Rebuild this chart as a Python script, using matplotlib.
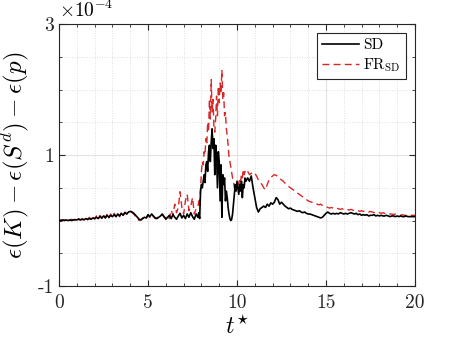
import numpy as np
import matplotlib
matplotlib.use("Agg")
import matplotlib.pyplot as plt
from matplotlib.ticker import MultipleLocator

plt.rcParams['font.family'] = 'cmr10'
plt.rcParams['mathtext.fontset'] = 'cm'
plt.rcParams['axes.unicode_minus'] = False

# time grid: coarse at start, fine around the burst, coarse after
t = np.concatenate([np.arange(0, 7.75, 0.1),
                    np.arange(7.8, 10.46, 0.05),
                    np.arange(10.5, 20.01, 0.1)])

# values in units of 1e-4
sd_a = [0.00, 0.00, 0.01, 0.00, 0.01, 0.00, 0.01, 0.00, 0.01, 0.01,
        0.01, 0.02, 0.01, 0.02, 0.01, 0.03, 0.02, 0.03, 0.02, 0.04,
        0.03, 0.05, 0.03, 0.06, 0.04, 0.07, 0.04, 0.08, 0.05, 0.08,
        0.06, 0.09, 0.06, 0.10, 0.07, 0.11, 0.08, 0.12, 0.10, 0.13,
        0.14, 0.13, 0.11, 0.08, 0.05, 0.02, 0.01, 0.03, 0.05, 0.04,
        0.09, 0.06, 0.10, 0.07, 0.04, 0.03, 0.05, 0.07, 0.10, 0.06,
        0.02, 0.05, 0.08, 0.03, 0.09, 0.05, 0.02, 0.07, 0.11, 0.04,
        0.08, 0.03, 0.10, 0.05, 0.12, 0.06, 0.02, 0.10]
fr_a = [0.00, 0.01, 0.00, 0.01, 0.00, 0.02, 0.00, 0.02, 0.01, 0.02,
        0.00, 0.03, 0.01, 0.03, 0.01, 0.04, 0.01, 0.05, 0.02, 0.06,
        0.02, 0.07, 0.03, 0.08, 0.03, 0.09, 0.04, 0.10, 0.04, 0.10,
        0.05, 0.11, 0.06, 0.12, 0.06, 0.12, 0.08, 0.13, 0.10, 0.14,
        0.15, 0.12, 0.10, 0.06, 0.03, 0.00, 0.01, 0.04, 0.06, 0.03,
        0.08, 0.05, 0.09, 0.06, 0.03, 0.04, 0.06, 0.08, 0.09, 0.05,
        0.04, 0.08, 0.03, 0.16, 0.08, 0.25, 0.12, 0.20, 0.44, 0.20,
        0.10, 0.30, 0.40, 0.15, 0.22, 0.35, 0.10, 0.18]

sd_b = [0.05, 0.12, 0.03, 0.45, 0.55, 0.50, 0.60, 0.70, 0.58, 0.85,
        0.90, 0.75, 1.05, 1.15, 0.90, 1.20, 1.40, 1.10, 1.25, 0.70,
        1.15, 1.00, 0.50, 1.05, 0.90, 0.30, 0.85, 0.05, 0.70, 0.55,
        0.65, 0.30, 0.45, 0.35, 0.20, 0.10, 0.03, 0.00, 0.02, 0.10,
        0.25, 0.40, 0.55, 0.45, 0.60, 0.50, 0.40, 0.55, 0.45, 0.60,
        0.35, 0.55, 0.50, 0.65]
fr_b = [0.20, 0.30, 0.22, 0.50, 0.75, 0.90, 0.85, 1.05, 1.00, 1.25,
        1.15, 1.50, 1.35, 1.85, 1.55, 2.15, 1.65, 1.85, 1.45, 1.35,
        1.55, 1.90, 1.60, 2.05, 1.80, 2.10, 1.95, 2.30, 1.85, 1.95,
        1.60, 1.65, 1.40, 1.30, 1.15, 0.97, 0.90, 0.82, 0.75, 0.65,
        0.60, 0.50, 0.48, 0.55, 0.50, 0.60, 0.55, 0.65, 0.60, 0.70,
        0.65, 0.78, 0.70, 0.75]

sd_c = [0.60, 0.65, 0.60, 0.68, 0.50, 0.35, 0.20, 0.13, 0.18, 0.20,
        0.22, 0.20, 0.25, 0.22, 0.27, 0.25, 0.28, 0.35, 0.32, 0.25,
        0.28, 0.25, 0.22, 0.20, 0.18, 0.19, 0.17, 0.16, 0.15, 0.14,
        0.15, 0.13, 0.12, 0.13, 0.11, 0.10, 0.10, 0.09, 0.08, 0.07,
        0.06, 0.05, 0.04, 0.05, 0.08, 0.11, 0.13, 0.11, 0.10, 0.11,
        0.10, 0.11, 0.10, 0.12, 0.11, 0.10, 0.11, 0.10, 0.11, 0.12,
        0.11, 0.10, 0.11, 0.09, 0.10, 0.08, 0.09, 0.08, 0.09, 0.07,
        0.08, 0.08, 0.09, 0.07, 0.08, 0.07, 0.08, 0.07, 0.07, 0.08,
        0.07, 0.06, 0.07, 0.07, 0.06, 0.07, 0.06, 0.07, 0.06, 0.06,
        0.07, 0.06, 0.06, 0.06, 0.06, 0.06]
fr_c = [0.72, 0.75, 0.70, 0.72, 0.74, 0.72, 0.68, 0.62, 0.58, 0.55,
        0.50, 0.47, 0.55, 0.62, 0.66, 0.68, 0.70, 0.69, 0.67, 0.64,
        0.62, 0.60, 0.57, 0.55, 0.52, 0.50, 0.48, 0.46, 0.44, 0.42,
        0.40, 0.38, 0.36, 0.34, 0.32, 0.30, 0.29, 0.28, 0.27, 0.26,
        0.25, 0.24, 0.25, 0.23, 0.22, 0.21, 0.20, 0.19, 0.20, 0.19,
        0.18, 0.19, 0.18, 0.17, 0.18, 0.17, 0.18, 0.17, 0.16, 0.17,
        0.16, 0.15, 0.16, 0.15, 0.14, 0.15, 0.14, 0.15, 0.14, 0.13,
        0.14, 0.13, 0.12, 0.13, 0.12, 0.12, 0.11, 0.12, 0.11, 0.10,
        0.11, 0.10, 0.10, 0.09, 0.10, 0.09, 0.09, 0.08, 0.09, 0.08,
        0.08, 0.08, 0.08, 0.08, 0.08, 0.08]

sd = np.array(sd_a + sd_b + sd_c) * 1e-4
fr = np.array(fr_a + fr_b + fr_c) * 1e-4

xticks = [0, 5, 10, 15, 20]
yticks = [-1e-4, 1e-4, 3e-4]
yticklabels = ['-1', '1', '3']

fig = plt.figure(figsize=(4.58, 3.43), dpi=100)
ax = fig.add_axes([0.129, 0.166, 0.777, 0.764])

ax.plot(t, sd, color='k', lw=1.2, label='SD', zorder=3)
ax.plot(t, fr, color='#d62728', lw=1.0, ls=(0, (5, 3)), label=r'FR$_{\rm SD}$', zorder=2)

ax.set_xlim(0, 20)
ax.set_ylim(-1e-4, 3e-4)
ax.set_xticks(xticks)
ax.set_xticklabels([str(x) for x in xticks])
ax.set_yticks(yticks)
ax.set_yticklabels(yticklabels)
ax.xaxis.set_minor_locator(MultipleLocator(1))
ax.yaxis.set_minor_locator(MultipleLocator(0.5e-4))

ax.grid(which='major', color='#e2e2e2', lw=0.8)
ax.grid(which='minor', color='#d4d4d4', lw=0.6, ls=(0, (1, 2)))
ax.set_axisbelow(True)
ax.tick_params(which='both', direction='in', top=True, right=True, colors='#262626',
               labelsize=14)
ax.tick_params(axis='x', which='major', pad=6)
ax.tick_params(which='major', length=4)
ax.tick_params(which='minor', length=2)
for s in ax.spines.values():
    s.set_color('#262626')
    s.set_linewidth(0.8)

ax.set_xlabel(r'$t^{\star}$', fontsize=17, labelpad=2)
ax.set_ylabel(r'$\epsilon(K)-\epsilon(S^d)-\epsilon(p)$', fontsize=18, labelpad=4)
ax.text(0.0, 1.01, r'$\times10^{-4}$', transform=ax.transAxes, fontsize=14,
        ha='left', va='bottom')

leg = ax.legend(loc='upper right', fontsize=11, fancybox=False, framealpha=1,
                edgecolor='#262626', bbox_to_anchor=(0.975, 0.965), borderaxespad=0,
                handlelength=2.4, labelspacing=0.25, borderpad=0.35, handletextpad=0.3)
leg.get_frame().set_linewidth(0.8)

fig.savefig('out.png', dpi=100)
